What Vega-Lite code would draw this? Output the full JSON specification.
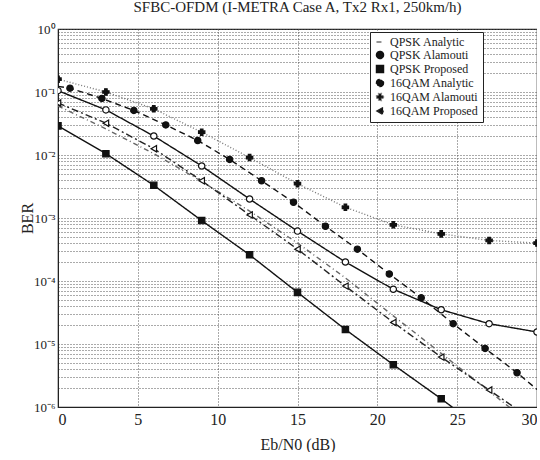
{
  "$schema": "https://vega.github.io/schema/vega-lite/v6.json",
  "width": 479,
  "height": 378,
  "padding": {"left": 19, "top": 0, "right": 0, "bottom": 0},
  "background": "white",
  "title": {"text": "SFBC-OFDM (I-METRA Case A, Tx2 Rx1, 250km/h)", "font": "Liberation Serif", "fontSize": 15, "fontWeight": "normal", "color": "#222", "anchor": "middle", "frame": "group", "offset": 8},
  "config": {
    "view": {"stroke": "#222", "strokeWidth": 1.2},
    "axis": {"labelFont": "Liberation Serif", "titleFont": "Liberation Serif", "labelColor": "#222", "titleColor": "#222", "titleFontWeight": "normal", "domainColor": "#222", "ticks": false, "gridColor": "#555", "gridDash": [1, 2], "gridOpacity": 1},
    "legend": {"title": null, "orient": "none", "legendX": 312, "legendY": 3, "fillColor": "white", "strokeColor": "#222", "padding": 4,
      "labelFont": "Liberation Serif", "labelFontSize": 12, "labelColor": "#222", "symbolSize": 50, "rowPadding": 0, "symbolStrokeWidth": 1.4}
  },
  "data": {"values": [
    {"series": "QPSK Analytic", "x": 0, "ber": 0.060},
    {"series": "QPSK Analytic", "x": 3, "ber": 0.026},
    {"series": "QPSK Analytic", "x": 6, "ber": 0.0105},
    {"series": "QPSK Analytic", "x": 9, "ber": 0.0038},
    {"series": "QPSK Analytic", "x": 12, "ber": 0.00129},
    {"series": "QPSK Analytic", "x": 15, "ber": 0.0004},
    {"series": "QPSK Analytic", "x": 18, "ber": 0.000112},
    {"series": "QPSK Analytic", "x": 21, "ber": 0.000028},
    {"series": "QPSK Analytic", "x": 24, "ber": 0.0000071},
    {"series": "QPSK Analytic", "x": 27, "ber": 0.00000178},
    {"series": "QPSK Analytic", "x": 30, "ber": 0.00000045},
    {"series": "QPSK Alamouti", "x": 0, "ber": 0.105},
    {"series": "QPSK Alamouti", "x": 3, "ber": 0.052},
    {"series": "QPSK Alamouti", "x": 6, "ber": 0.020},
    {"series": "QPSK Alamouti", "x": 9, "ber": 0.0067},
    {"series": "QPSK Alamouti", "x": 12, "ber": 0.0020},
    {"series": "QPSK Alamouti", "x": 15, "ber": 0.00062},
    {"series": "QPSK Alamouti", "x": 18, "ber": 0.00020},
    {"series": "QPSK Alamouti", "x": 21, "ber": 0.000074},
    {"series": "QPSK Alamouti", "x": 24, "ber": 0.000035},
    {"series": "QPSK Alamouti", "x": 27, "ber": 0.000021},
    {"series": "QPSK Alamouti", "x": 30, "ber": 0.0000155},
    {"series": "QPSK Proposed", "x": 0, "ber": 0.029},
    {"series": "QPSK Proposed", "x": 3, "ber": 0.0105},
    {"series": "QPSK Proposed", "x": 6, "ber": 0.0033},
    {"series": "QPSK Proposed", "x": 9, "ber": 0.00091},
    {"series": "QPSK Proposed", "x": 12, "ber": 0.00026},
    {"series": "QPSK Proposed", "x": 15, "ber": 0.000066},
    {"series": "QPSK Proposed", "x": 18, "ber": 0.000017},
    {"series": "QPSK Proposed", "x": 21, "ber": 0.0000047},
    {"series": "QPSK Proposed", "x": 24, "ber": 0.00000135},
    {"series": "QPSK Proposed", "x": 27, "ber": 0.00000036},
    {"series": "16QAM Analytic", "x": 0, "ber": 0.123},
    {"series": "16QAM Analytic", "x": 0.75, "ber": 0.115},
    {"series": "16QAM Analytic", "x": 2.75, "ber": 0.079},
    {"series": "16QAM Analytic", "x": 4.75, "ber": 0.051},
    {"series": "16QAM Analytic", "x": 6.75, "ber": 0.030},
    {"series": "16QAM Analytic", "x": 8.75, "ber": 0.017},
    {"series": "16QAM Analytic", "x": 10.75, "ber": 0.0085},
    {"series": "16QAM Analytic", "x": 12.75, "ber": 0.0039},
    {"series": "16QAM Analytic", "x": 14.75, "ber": 0.00178},
    {"series": "16QAM Analytic", "x": 16.75, "ber": 0.00074},
    {"series": "16QAM Analytic", "x": 18.75, "ber": 0.00032},
    {"series": "16QAM Analytic", "x": 20.75, "ber": 0.000129},
    {"series": "16QAM Analytic", "x": 22.75, "ber": 0.000054},
    {"series": "16QAM Analytic", "x": 24.75, "ber": 0.000021},
    {"series": "16QAM Analytic", "x": 26.75, "ber": 0.0000085},
    {"series": "16QAM Analytic", "x": 28.75, "ber": 0.0000035},
    {"series": "16QAM Analytic", "x": 30, "ber": 0.0000019},
    {"series": "16QAM Alamouti", "x": 0, "ber": 0.16},
    {"series": "16QAM Alamouti", "x": 3, "ber": 0.10},
    {"series": "16QAM Alamouti", "x": 6, "ber": 0.054},
    {"series": "16QAM Alamouti", "x": 9, "ber": 0.023},
    {"series": "16QAM Alamouti", "x": 12, "ber": 0.0091},
    {"series": "16QAM Alamouti", "x": 15, "ber": 0.0035},
    {"series": "16QAM Alamouti", "x": 18, "ber": 0.00148},
    {"series": "16QAM Alamouti", "x": 21, "ber": 0.00078},
    {"series": "16QAM Alamouti", "x": 24, "ber": 0.00056},
    {"series": "16QAM Alamouti", "x": 27, "ber": 0.00044},
    {"series": "16QAM Alamouti", "x": 30, "ber": 0.00040},
    {"series": "16QAM Proposed", "x": 0, "ber": 0.067},
    {"series": "16QAM Proposed", "x": 3, "ber": 0.032},
    {"series": "16QAM Proposed", "x": 6, "ber": 0.0126},
    {"series": "16QAM Proposed", "x": 9, "ber": 0.0039},
    {"series": "16QAM Proposed", "x": 12, "ber": 0.00112},
    {"series": "16QAM Proposed", "x": 15, "ber": 0.00032},
    {"series": "16QAM Proposed", "x": 18, "ber": 0.000083},
    {"series": "16QAM Proposed", "x": 21, "ber": 0.000022},
    {"series": "16QAM Proposed", "x": 24, "ber": 0.0000062},
    {"series": "16QAM Proposed", "x": 27, "ber": 0.00000186},
    {"series": "16QAM Proposed", "x": 30, "ber": 0.00000056}
  ]},
  "encoding": {
    "x": {"field": "x", "type": "quantitative", "scale": {"domain": [0, 30], "nice": false},
      "axis": {"values": [0, 5, 10, 15, 20, 25, 30], "title": "Eb/N0 (dB)", "labelFontSize": 16, "titleFontSize": 16, "labelPadding": 4, "titlePadding": 9}},
    "y": {"field": "ber", "type": "quantitative", "scale": {"type": "log", "domain": [0.000001, 1], "nice": false},
      "axis": {"title": "BER", "titleFontSize": 16, "labelFontSize": 13, "labelPadding": 3, "titlePadding": -2,
        "values": [0.000001, 0.000002, 0.000003, 0.000004, 0.000005, 0.000006, 0.000007, 0.000008, 0.000009,
          0.00001, 0.00002, 0.00003, 0.00004, 0.00005, 0.00006, 0.00007, 0.00008, 0.00009,
          0.0001, 0.0002, 0.0003, 0.0004, 0.0005, 0.0006, 0.0007, 0.0008, 0.0009,
          0.001, 0.002, 0.003, 0.004, 0.005, 0.006, 0.007, 0.008, 0.009,
          0.01, 0.02, 0.03, 0.04, 0.05, 0.06, 0.07, 0.08, 0.09,
          0.1, 0.2, 0.3, 0.4, 0.5, 0.6, 0.7, 0.8, 0.9, 1],
        "labelExpr": "abs(log(datum.value)/LN10 - round(log(datum.value)/LN10)) < 0.001 ? ['10⁰','10⁻¹','10⁻²','10⁻³','10⁻⁴','10⁻⁵','10⁻⁶'][abs(round(log(datum.value)/LN10))] : ''"}}
  },
  "layer": [
    {
      "mark": {"type": "line", "clip": true, "strokeWidth": 1.4},
      "encoding": {
        "detail": {"field": "series"},
        "color": {"field": "series", "type": "nominal",
          "scale": {"domain": ["QPSK Analytic", "QPSK Alamouti", "QPSK Proposed", "16QAM Analytic", "16QAM Alamouti", "16QAM Proposed"],
            "range": ["#666666", "#111111", "#111111", "#111111", "#777777", "#222222"]}},
        "strokeDash": {"field": "series", "type": "nominal",
          "scale": {"domain": ["QPSK Analytic", "QPSK Alamouti", "QPSK Proposed", "16QAM Analytic", "16QAM Alamouti", "16QAM Proposed"],
            "range": [[5, 3, 1, 3], [1, 0], [1, 0], [6, 4], [1, 2], [7, 3, 2, 3]]}}
      }
    },
    {
      "transform": [{"filter": "datum.series != 'QPSK Analytic' && !(datum.series == '16QAM Analytic' && (datum.x == 0 || datum.x == 30))"}],
      "mark": {"type": "point", "clip": true, "size": 40, "strokeWidth": 1.2, "stroke": "#111", "opacity": 1},
      "encoding": {
        "fill": {"condition": {"test": "datum.series == 'QPSK Alamouti' || datum.series == '16QAM Proposed'", "value": "white"}, "value": "#111"},
        "shape": {"field": "series", "type": "nominal",
          "scale": {"domain": ["QPSK Analytic", "QPSK Alamouti", "QPSK Proposed", "16QAM Analytic", "16QAM Alamouti", "16QAM Proposed"],
            "range": ["stroke", "circle", "square", "circle", "cross", "triangle-left"]}
        }
      }
    }
  ]
}
